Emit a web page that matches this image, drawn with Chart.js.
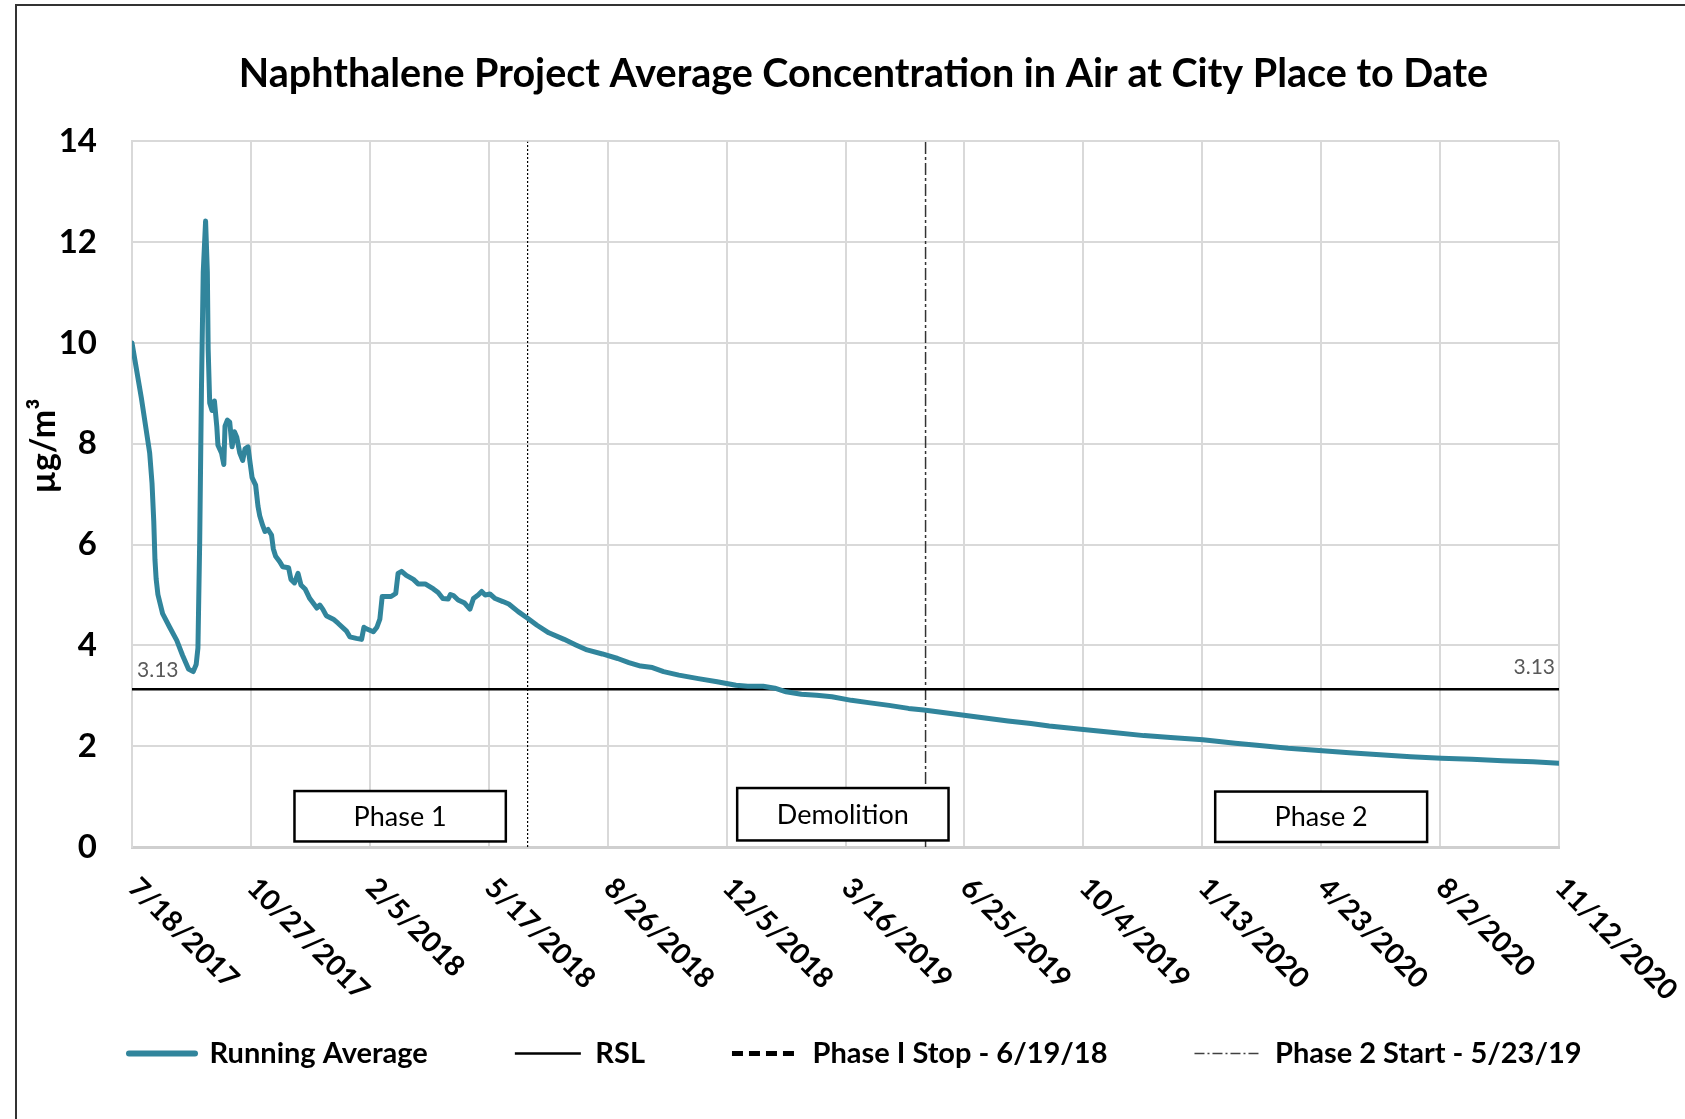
<!DOCTYPE html>
<html>
<head>
<meta charset="utf-8">
<script src="https://cdn.jsdelivr.net/npm/chart.js@4.4.1/dist/chart.umd.min.js"></script>
<style>
html,body{margin:0;padding:0;background:#fff;}
canvas{display:block;}
</style>
</head>
<body>
<canvas id="c" width="1685" height="1119"></canvas>
<script>
// ---------- DATA ----------
const chartTitle = 'Naphthalene Project Average Concentration in Air at City Place to Date';
const yAxisTitle = 'µg/m³';
// x axis: days since 7/18/2017, labelled every 101 days
const tickStepDays = 101;
const tickLabels = ['7/18/2017','10/27/2017','2/5/2018','5/17/2018','8/26/2018','12/5/2018',
  '3/16/2019','6/25/2019','10/4/2019','1/13/2020','4/23/2020','8/2/2020','11/12/2020'];
const seriesNames = ['Running Average','RSL','Phase I Stop - 6/19/18','Phase 2 Start - 5/23/19'];

const dayOffsets = [0,8,15,17,18.5,19.5,20.5,22,26,32,38,43,48,52,54.5,56,57.5,59,60.5,62.5,64,64.7,66,68,70,72,73,76,78,79,81,83,85,87,89,91.5,94,96,98.5,100.5,102,105,107,108.5,111,113,115.5,118.5,120,122,125.5,128,133,135,138,141,143.5,147,151,154.5,157,159.5,162,165,171,175,182,185,190.5,195,197,199,205,208,210.5,212.5,216,220,224,226,229,233,239,243,249,256,260,264,268.5,270.5,273,277,282.5,287,290,294,297,300,304,308.5,315,320,328,336,344,354,367,377,386.5,399.5,412.5,422,432,442,451.5,464.5,481,497,513,523,536,546,555.5,568.5,581.5,594.5,611,627,643,659.5,672.5,685.5,705,724.5,744,763.5,779,808,833.5,859.5,885,909.5,937,960,982,1011,1034,1060,1086,1112,1138,1164,1190,1212];
const runningAverage = [10.0,8.9,7.82,7.22,6.45,5.7,5.32,5.01,4.63,4.36,4.1,3.8,3.53,3.48,3.62,3.95,6.07,9.11,11.4,12.42,11.4,9.87,8.81,8.66,8.85,8.35,7.97,7.82,7.59,8.35,8.47,8.43,7.94,8.24,8.13,7.82,7.67,7.9,7.94,7.59,7.33,7.18,6.76,6.57,6.38,6.26,6.3,6.19,5.92,5.77,5.66,5.56,5.54,5.31,5.24,5.43,5.2,5.12,4.93,4.82,4.74,4.8,4.72,4.59,4.52,4.44,4.29,4.17,4.14,4.12,4.36,4.33,4.27,4.36,4.52,4.97,4.97,4.97,5.03,5.43,5.47,5.39,5.31,5.22,5.22,5.12,5.05,4.93,4.92,5.01,4.99,4.9,4.84,4.72,4.93,5.0,5.07,5.0,5.02,4.93,4.87,4.82,4.67,4.54,4.4,4.25,4.12,4.01,3.91,3.83,3.74,3.66,3.59,3.56,3.48,3.41,3.34,3.28,3.21,3.19,3.19,3.15,3.08,3.03,3.01,2.98,2.91,2.86,2.81,2.75,2.72,2.68,2.62,2.56,2.5,2.45,2.4,2.33,2.27,2.21,2.17,2.13,2.06,2.01,1.96,1.91,1.87,1.83,1.79,1.76,1.74,1.71,1.69,1.66];
const rslValue = 3.13;
const phase1StopDay = 336;   // 6/19/18
const phase2StartDay = 674;  // 5/23/19
const phaseLabels = ['Phase 1','Demolition','Phase 2'];

// ---------- annotation layout (data units) ----------
const phaseBoxExtents = [
  {x0:138, x1:317.5, y0:0.11, y1:1.11},
  {x0:514, x1:693.5, y0:0.13, y1:1.17},
  {x0:920, x1:1100, y0:0.10, y1:1.10}
];

const FONT = 'Lato';
const TEAL = '#31859C';

const legendStyles = [
  {color:TEAL, width:6, dash:[], cap:'round'},
  {color:'#000', width:2.5, dash:[], cap:'butt'},
  {color:'#000', width:5, dash:[11,6], cap:'butt'},
  {color:'#404040', width:1.5, dash:[10,3,2,3], cap:'butt'}
];

const framePlugin = {
  id:'frame',
  beforeDraw(chart){
    const ctx = chart.ctx;
    ctx.save();
    ctx.fillStyle = '#fff';
    ctx.fillRect(0,0,chart.width,chart.height);
    ctx.strokeStyle = '#333';
    ctx.lineWidth = 2;
    ctx.beginPath();
    ctx.moveTo(16, chart.height);
    ctx.lineTo(16, 5);
    ctx.lineTo(chart.width, 5);
    ctx.stroke();
    ctx.restore();
  }
};

const decorPlugin = {
  id:'decor',
  afterDraw(chart){
    const {ctx, chartArea, scales:{x, y}} = chart;
    ctx.save();
    // x tick labels rotated 45deg clockwise
    ctx.font = 'bold 28.5px ' + FONT;
    ctx.fillStyle = '#000';
    ctx.textAlign = 'left';
    ctx.textBaseline = 'middle';
    x.ticks.forEach(t => {
      const idx = Math.round(t.value / tickStepDays);
      const label = tickLabels[idx];
      if (!label) return;
      const px = x.getPixelForValue(t.value);
      ctx.save();
      ctx.translate(px + 1, chartArea.bottom + 36);
      ctx.rotate(Math.PI / 4);
      ctx.fillText(label, 0, 0);
      ctx.restore();
    });
    // y axis title
    ctx.save();
    ctx.font = 'bold 34px ' + FONT;
    ctx.textAlign = 'center';
    ctx.translate(44, 446);
    ctx.rotate(-Math.PI / 2);
    ctx.fillText(yAxisTitle, 0, 0);
    ctx.restore();
    // RSL value labels
    const ry = y.getPixelForValue(rslValue);
    ctx.font = '21px ' + FONT;
    ctx.fillStyle = '#595959';
    ctx.textAlign = 'left';
    ctx.fillText(String(rslValue), chartArea.left + 5, ry - 19);
    ctx.textAlign = 'right';
    ctx.fillText(String(rslValue), chartArea.right - 4, ry - 22);
    // phase boxes
    ctx.font = '27px ' + FONT;
    ctx.textAlign = 'center';
    phaseLabels.forEach((lab, i) => {
      const b = phaseBoxExtents[i];
      const l = x.getPixelForValue(b.x0), r = x.getPixelForValue(b.x1);
      const t = y.getPixelForValue(b.y1), bt = y.getPixelForValue(b.y0);
      ctx.fillStyle = '#fff';
      ctx.fillRect(l, t, r - l, bt - t);
      ctx.strokeStyle = '#000';
      ctx.lineWidth = 2.5;
      ctx.strokeRect(l, t, r - l, bt - t);
      ctx.fillStyle = '#000';
      ctx.fillText(lab, (l + r) / 2, (t + bt) / 2 + 1);
    });
    ctx.restore();
  }
};

const gridColor = '#d9d9d9';

new Chart(document.getElementById('c'), {
  type:'line',
  data:{
    datasets:[
      {label:seriesNames[0], data:dayOffsets.map((d,i)=>({x:d, y:runningAverage[i]})),
       borderColor:TEAL, borderWidth:5, pointRadius:0, tension:0, borderJoinStyle:'round', borderCapStyle:'round'},
      {label:seriesNames[1], data:[{x:0,y:rslValue},{x:tickStepDays*(tickLabels.length-1),y:rslValue}],
       borderColor:'#000', borderWidth:2.5, pointRadius:0},
      {label:seriesNames[2], data:[{x:phase1StopDay,y:0},{x:phase1StopDay,y:14}],
       borderColor:'#000', borderWidth:1.2, borderDash:[2,2], pointRadius:0},
      {label:seriesNames[3], data:[{x:phase2StartDay,y:0},{x:phase2StartDay,y:14}],
       borderColor:'#333', borderWidth:1.5, borderDash:[12,3,3,3], pointRadius:0}
    ]
  },
  options:{
    responsive:false,
    animation:false,
    devicePixelRatio:1,
    layout:{padding:{left:42,right:0,top:0,bottom:41}},
    plugins:{
      title:{display:true, text:chartTitle, color:'#000',
        font:{family:FONT, size:39.5, weight:'bold'}, padding:{top:51, bottom:43}},
      legend:{position:'bottom', align:'start',
        labels:{usePointStyle:true, pointStyle:'line', pointStyleWidth:66, padding:87, color:'#000',
          font:{family:FONT, size:29, weight:'bold'},
          generateLabels:(chart)=>chart.data.datasets.map((ds,i)=>({
            text:ds.label, strokeStyle:legendStyles[i].color, fillStyle:legendStyles[i].color,
            lineWidth:legendStyles[i].width, lineDash:legendStyles[i].dash, lineCap:legendStyles[i].cap,
            pointStyle:'line', datasetIndex:i, hidden:false, fontColor:'#000'}))
        }},
      tooltip:{enabled:false}
    },
    scales:{
      x:{type:'linear', min:0, max:tickStepDays*(tickLabels.length-1),
        ticks:{display:false, stepSize:tickStepDays, maxTicksLimit:20},
        grid:{color:gridColor, lineWidth:2, drawTicks:false},
        border:{color:'#cfcfcf', width:3},
        afterFit:(s)=>{ s.height = 105; }},
      y:{min:0, max:14,
        ticks:{stepSize:2, padding:35, color:'#000', font:{family:FONT, size:33, weight:'bold'}},
        grid:{color:gridColor, lineWidth:2, drawTicks:false},
        border:{color:gridColor, width:2},
        afterFit:(s)=>{ s.width = 90; }},
      yR:{position:'right', display:true,
        ticks:{display:false}, grid:{display:false}, border:{display:false},
        afterFit:(s)=>{ s.width = 126; }}
    }
  },
  plugins:[framePlugin, decorPlugin]
});
</script>
</body>
</html>
